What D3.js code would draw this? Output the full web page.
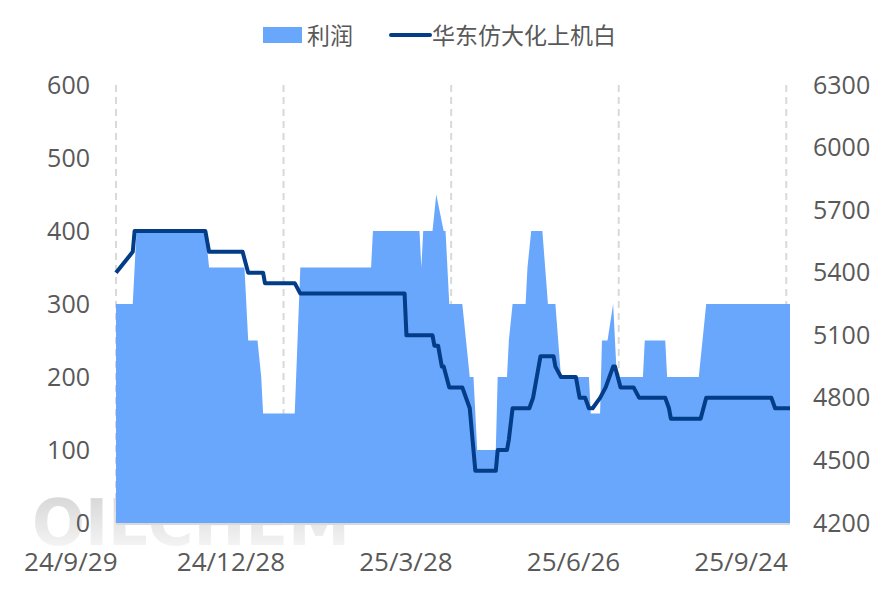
<!DOCTYPE html>
<html>
<head>
<meta charset="utf-8">
<script src="https://cdn.jsdelivr.net/npm/d3@7"></script>
<style>
body { margin: 0; background: #fff; }
svg text { font-family: "Open Sans", "Noto Sans CJK SC", sans-serif; fill: #595959; }
.axis path, .axis line { display: none; }
</style>
</head>
<body>
<div id="chart"></div>
<script>
// 利润 (left axis)
var profitDates = ["2024-09-29","2024-10-08","2024-10-10","2024-11-16","2024-11-18","2024-12-07","2024-12-09",
  "2024-12-14","2024-12-16","2024-12-17","2025-01-03","2025-01-06","2025-02-13","2025-02-14","2025-03-11",
  "2025-03-12","2025-03-13","2025-03-18","2025-03-20","2025-03-24","2025-03-25","2025-03-27","2025-04-03",
  "2025-04-07","2025-04-09","2025-04-11","2025-04-21","2025-04-22","2025-04-27","2025-04-28","2025-04-30",
  "2025-05-07","2025-05-08","2025-05-10","2025-05-16","2025-05-19","2025-05-23","2025-05-26","2025-06-10",
  "2025-06-11","2025-06-16","2025-06-17","2025-06-20","2025-06-23","2025-06-25","2025-07-09","2025-07-10",
  "2025-07-21","2025-07-22","2025-08-08","2025-08-12","2025-09-26"];
var profitValues = [300,300,400,400,350,350,250,
  250,200,150,150,350,350,400,400,
  350,400,400,450,400,400,300,300,
  200,200,100,100,200,200,250,300,
  300,350,400,400,300,300,200,200,
  150,150,250,250,300,200,200,250,
  250,200,200,300,300];

// 华东仿大化上机白 (right axis)
var priceDates = ["2024-09-29","2024-10-08","2024-10-09","2024-11-16","2024-11-18","2024-12-06","2024-12-09",
  "2024-12-17","2024-12-18","2025-01-03","2025-01-06","2025-03-03","2025-03-04","2025-03-18","2025-03-19",
  "2025-03-21","2025-03-23","2025-03-24","2025-03-27","2025-04-03","2025-04-07","2025-04-10","2025-04-21",
  "2025-04-22","2025-04-27","2025-04-28","2025-04-30","2025-05-09","2025-05-11","2025-05-13","2025-05-15",
  "2025-05-22","2025-05-23","2025-05-26","2025-06-03","2025-06-05","2025-06-08","2025-06-10","2025-06-12",
  "2025-06-16","2025-06-19","2025-06-23","2025-06-24","2025-06-27","2025-07-04","2025-07-07","2025-07-21",
  "2025-07-23","2025-07-24","2025-08-09","2025-08-12","2025-09-16","2025-09-18","2025-09-26"];
var priceValues = [5400,5500,5600,5600,5500,5500,5400,
  5400,5350,5350,5300,5300,5100,5100,5050,
  5050,4950,4950,4850,4850,4750,4450,4450,
  4550,4550,4600,4750,4750,4800,4900,5000,
  5000,4950,4900,4900,4800,4800,4750,4750,
  4800,4850,4950,4950,4850,4850,4800,4800,
  4750,4700,4700,4800,4800,4750,4750];

var tickDates = ["2024-09-29","2024-12-28","2025-03-28","2025-06-26","2025-09-24"];
var tickLabels = ["24/9/29","24/12/28","25/3/28","25/6/26","25/9/24"];
var leftTicks = [0,100,200,300,400,500,600];
var rightTicks = [4200,4500,4800,5100,5400,5700,6000,6300];

var parse = d3.timeParse("%Y-%m-%d");
var profit = profitDates.map(function(d, i) { return {date: parse(d), value: profitValues[i]}; });
var price = priceDates.map(function(d, i) { return {date: parse(d), value: priceValues[i]}; });

var width = 886, height = 591;
var plotLeft = 116, plotRight = 790, plotTop = 85, plotBottom = 523;

var svg = d3.select("#chart").append("svg")
  .attr("width", width).attr("height", height);

var x = d3.scaleTime().domain([parse("2024-09-29"), parse("2025-09-26")]).range([plotLeft, plotRight]);
var yL = d3.scaleLinear().domain([0, 600]).range([plotBottom, plotTop]);
var yR = d3.scaleLinear().domain([4200, 6300]).range([plotBottom, plotTop]);

// watermark
var grad = svg.append("defs").append("linearGradient")
  .attr("id", "wm").attr("x1", 0).attr("y1", 0).attr("x2", 0).attr("y2", 1);
grad.append("stop").attr("offset", "0%").attr("stop-color", "#d2d2d2");
grad.append("stop").attr("offset", "100%").attr("stop-color", "#fbfbfb");
svg.append("text")
  .attr("x", 32).attr("y", 545)
  .attr("textLength", 318)
  .attr("lengthAdjust", "spacingAndGlyphs")
  .style("font-family", "'DejaVu Sans', sans-serif")
  .style("font-weight", "bold")
  .style("font-size", "64px")
  .style("fill", "url(#wm)")
  .text("OILCHEM");

// vertical dashed gridlines
svg.append("g").selectAll("line")
  .data(tickDates)
  .enter().append("line")
  .attr("x1", function(d) { return x(parse(d)); })
  .attr("x2", function(d) { return x(parse(d)); })
  .attr("y1", plotTop).attr("y2", plotBottom)
  .attr("stroke", "#d9d9d9")
  .attr("stroke-width", 2)
  .attr("stroke-dasharray", "7,5");

// area
var area = d3.area()
  .x(function(d) { return x(d.date); })
  .y0(plotBottom)
  .y1(function(d) { return yL(d.value); });
svg.append("path")
  .datum(profit)
  .attr("d", area)
  .attr("fill", "#69a7fd");

// baseline
svg.append("line")
  .attr("x1", plotLeft).attr("x2", plotRight)
  .attr("y1", plotBottom + 1).attr("y2", plotBottom + 1)
  .attr("stroke", "#d9d9d9").attr("stroke-width", 2);

// price line
var line = d3.line()
  .x(function(d) { return x(d.date); })
  .y(function(d) { return yR(d.value); });
svg.append("path")
  .datum(price)
  .attr("d", line)
  .attr("fill", "none")
  .attr("stroke", "#033c87")
  .attr("stroke-width", 4)
  .attr("stroke-linejoin", "round");

// axes
var xAxis = svg.append("g").attr("class", "axis")
  .attr("transform", "translate(0," + plotBottom + ")")
  .call(d3.axisBottom(x)
    .tickValues(tickDates.map(parse))
    .tickFormat(function(d, i) { return tickLabels[i]; })
    .tickSize(0));
xAxis.selectAll("text")
  .attr("text-anchor", "end")
  .attr("dy", 0)
  .attr("y", 48)
  .attr("x", 1)
  .style("font-size", "26px");

var lAxis = svg.append("g").attr("class", "axis")
  .attr("transform", "translate(" + (plotLeft - 26) + ",0)")
  .call(d3.axisLeft(yL).tickValues(leftTicks).tickSize(0).tickPadding(0));
lAxis.selectAll("text").style("font-size", "25px");

var rAxis = svg.append("g").attr("class", "axis")
  .attr("transform", "translate(" + (plotRight + 23) + ",0)")
  .call(d3.axisRight(yR).tickValues(rightTicks).tickFormat(d3.format("d")).tickSize(0).tickPadding(0));
rAxis.selectAll("text").style("font-size", "25px");

// legend
var legend = svg.append("g");
legend.append("rect")
  .attr("x", 263).attr("y", 27).attr("width", 39).attr("height", 16)
  .attr("fill", "#69a7fd");
legend.append("text")
  .attr("x", 307).attr("y", 44)
  .style("font-size", "23px")
  .text("利润");
legend.append("line")
  .attr("x1", 391).attr("x2", 430).attr("y1", 35).attr("y2", 35)
  .attr("stroke", "#033c87").attr("stroke-width", 4).attr("stroke-linecap", "round");
legend.append("text")
  .attr("x", 432).attr("y", 44)
  .style("font-size", "23px")
  .text("华东仿大化上机白");
</script>
</body>
</html>
